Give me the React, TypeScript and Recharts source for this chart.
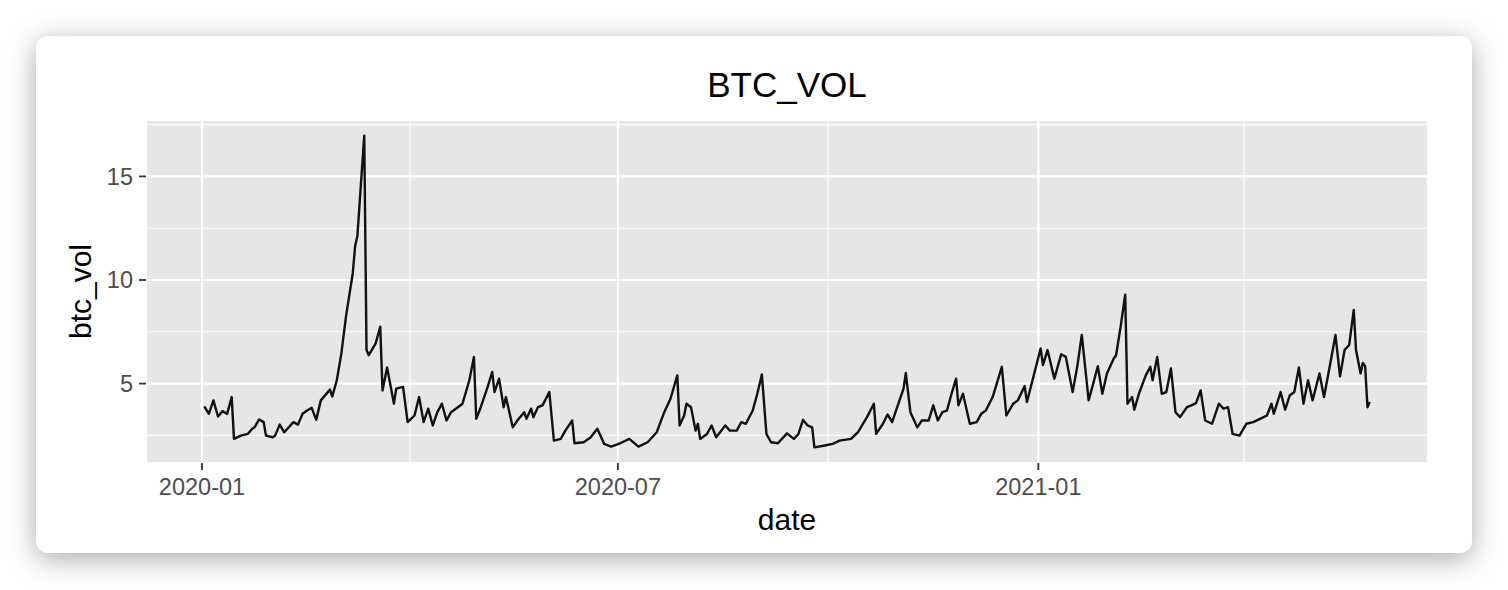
import { CartesianGrid, Label, Line, LineChart, ReferenceLine, XAxis, YAxis } from "recharts";

// days since 2020-01-01
const dayIndex = [
  1, 3, 5, 7, 9, 11, 13, 14, 17, 20, 22, 23, 25, 27, 28, 31, 32, 34, 36, 38, 40, 42, 44, 46, 48, 50, 52, 56, 57, 59,
  61, 63, 66, 67, 68, 71, 72, 73, 76, 78, 79, 81, 84, 85, 88, 90, 93, 95, 97, 99, 101, 103, 105, 107, 109, 112, 114,
  117, 119, 120, 122, 125, 127, 128, 130, 132, 133, 136, 138, 141, 142, 144, 145, 147, 149, 152, 154, 157, 159, 162,
  163, 167, 170, 173, 176, 179, 183, 187, 191, 195, 199, 202, 205, 208, 209, 211, 212, 214, 216, 217, 218, 221, 223,
  225, 229, 231, 234, 236, 238, 241, 243, 245, 247, 249, 252, 256, 259, 261, 263, 265, 267, 268, 272, 276, 279, 284,
  287, 291, 294, 295, 298, 300, 302, 304, 307, 308, 310, 313, 315, 318, 320, 322, 324, 326, 328, 330, 331, 333, 336,
  339, 341, 343, 346, 350, 352, 355, 357, 360, 361, 364, 367, 368, 370, 373, 376, 378, 381, 383, 385, 388, 390, 392,
  394, 396, 399, 400, 402, 404, 405, 407, 408, 410, 413, 415, 416, 418, 420, 422, 424, 426, 428, 431, 433, 435, 437,
  439, 442, 445, 447, 449, 451, 454, 457, 460, 463, 466, 468, 469, 472, 474, 476, 478, 480, 482, 484, 486, 489, 491,
  494, 496, 498, 500, 502, 504, 505, 507, 508, 509, 510, 511,
];

const btcVol = [
  3.9, 3.54, 4.19, 3.41, 3.67, 3.54, 4.35, 2.33, 2.49, 2.57, 2.82, 2.89, 3.27, 3.14, 2.49, 2.41, 2.49, 3.02, 2.65,
  2.89, 3.14, 3.02, 3.54, 3.7, 3.83, 3.25, 4.19, 4.71, 4.38, 5.16, 6.46, 8.23, 10.34, 11.63, 12.12, 16.97, 6.62, 6.37,
  6.94, 7.75, 4.67, 5.78, 4.03, 4.76, 4.84, 3.14, 3.46, 4.35, 3.14, 3.79, 2.98, 3.62, 4.03, 3.22, 3.62, 3.86, 4.03,
  5.16, 6.29, 3.3, 3.86, 4.84, 5.56, 4.59, 5.24, 3.86, 4.35, 2.89, 3.22, 3.62, 3.3, 3.79, 3.38, 3.86, 3.95, 4.59,
  2.25, 2.33, 2.73, 3.22, 2.12, 2.17, 2.4, 2.82, 2.09, 1.96, 2.12, 2.33, 1.96, 2.17, 2.65, 3.54, 4.27, 5.4, 2.98,
  3.46, 4.03, 3.86, 2.73, 3.06, 2.33, 2.57, 2.98, 2.41, 2.98, 2.73, 2.73, 3.14, 3.06, 3.7, 4.51, 5.44, 2.57, 2.17,
  2.12, 2.6, 2.33, 2.57, 3.25, 2.98, 2.89, 1.92, 2.0, 2.09, 2.25, 2.33, 2.65, 3.38, 4.03, 2.57, 3.06, 3.51, 3.14,
  3.79, 4.76, 5.51, 3.62, 2.89, 3.22, 3.22, 3.95, 3.22, 3.62, 3.7, 4.51, 5.24, 3.95, 4.51, 3.06, 3.14, 3.54, 3.7,
  4.35, 5.81, 3.46, 4.03, 4.19, 4.88, 4.11, 5.4, 6.7, 5.89, 6.62, 5.24, 6.42, 6.29, 4.59, 5.81, 7.35, 4.19, 5.0,
  5.84, 4.51, 5.49, 6.21, 6.37, 7.75, 9.29, 4.03, 4.35, 3.74, 4.51, 5.4, 5.81, 5.16, 6.29, 4.51, 4.59, 5.73, 3.62,
  3.38, 3.86, 3.95, 4.06, 4.67, 3.22, 3.06, 4.03, 3.79, 3.86, 2.57, 2.49, 3.06, 3.14, 3.3, 3.46, 4.03, 3.54, 4.59,
  3.74, 4.43, 4.59, 5.78, 4.03, 5.16, 4.19, 5.49, 4.35, 6.13, 7.35, 5.35, 6.62, 6.86, 8.56, 6.62, 5.49, 6.0, 5.84,
  3.86, 4.11,
];

const xTickDays = [0, 182, 366];
const xTickLabels = ["2020-01", "2020-07", "2021-01"];
const xMinorDays = [91, 274, 456];
const yTicks = [5, 10, 15];
const yMinor = [2.5, 7.5, 12.5, 17.5];

const data = dayIndex.map((d, i) => ({ day: d, btc_vol: btcVol[i] }));

// ggplot-style 5% expansion
const xMin = Math.min(...dayIndex);
const xMax = Math.max(...dayIndex);
const xPad = (xMax - xMin) * 0.05;
const yMin = Math.min(...btcVol);
const yMax = Math.max(...btcVol);
const yPad = (yMax - yMin) * 0.05;

const FONT = "'Liberation Sans', Arial, Helvetica, sans-serif";

export default function App() {
  return (
    <div style={{ position: "absolute", left: 0, top: 0, width: 1508, height: 590, background: "#fff" }}>
      <div
        style={{
          position: "absolute",
          left: 36,
          top: 36,
          width: 1436,
          height: 517,
          borderRadius: 12,
          background: "#fff",
          boxShadow: "0 6px 28px rgba(0,0,0,0.34)",
          fontFamily: FONT,
        }}
      >
        <div
          style={{
            position: "absolute",
            left: 110,
            width: 1282,
            top: 31,
            fontSize: 35,
            lineHeight: "35px",
            textAlign: "center",
            color: "#000",
          }}
        >
          BTC_VOL
        </div>
        <LineChart
          width={1436}
          height={517}
          data={data}
          margin={{ top: 84, right: 44, left: 30, bottom: 15 }}
          style={{ position: "absolute", left: 0, top: 0 }}
        >
          <CartesianGrid fill="#E6E6E6" fillOpacity={1} stroke="#fff" strokeWidth={2.2} />
          {xMinorDays.map((d) => (
            <ReferenceLine key={"x" + d} x={d} stroke="#fff" strokeWidth={1.1} />
          ))}
          {yMinor.map((v) => (
            <ReferenceLine key={"y" + v} y={v} stroke="#fff" strokeWidth={1.1} />
          ))}
          <XAxis
            dataKey="day"
            type="number"
            domain={[xMin - xPad, xMax + xPad]}
            ticks={xTickDays}
            tickFormatter={(v: number) => xTickLabels[xTickDays.indexOf(v)] ?? ""}
            allowDataOverflow
            axisLine={false}
            tickLine={{ stroke: "#333", strokeWidth: 1.8 }}
            tickSize={7}
            tickMargin={8}
            height={75}
            tick={{ fontSize: 23.5, fill: "#4D4D4D", fontFamily: FONT }}
          >
            <Label value="date" position="insideBottom" offset={8} style={{ fontSize: 30, fill: "#000", fontFamily: FONT }} />
          </XAxis>
          <YAxis
            type="number"
            domain={[yMin - yPad, yMax + yPad]}
            ticks={yTicks}
            allowDataOverflow
            axisLine={false}
            tickLine={{ stroke: "#333", strokeWidth: 1.8 }}
            tickSize={7}
            tickMargin={6}
            width={80}
            tick={{ fontSize: 23.5, fill: "#4D4D4D", fontFamily: FONT }}
          >
            <Label
              value="btc_vol"
              angle={-90}
              position="insideLeft"
              offset={14}
              style={{ fontSize: 30, fill: "#000", fontFamily: FONT, textAnchor: "middle" }}
            />
          </YAxis>
          <Line
            type="linear"
            dataKey="btc_vol"
            stroke="#111"
            strokeWidth={2.4}
            strokeLinejoin="round"
            dot={false}
            isAnimationActive={false}
          />
        </LineChart>
      </div>
    </div>
  );
}
